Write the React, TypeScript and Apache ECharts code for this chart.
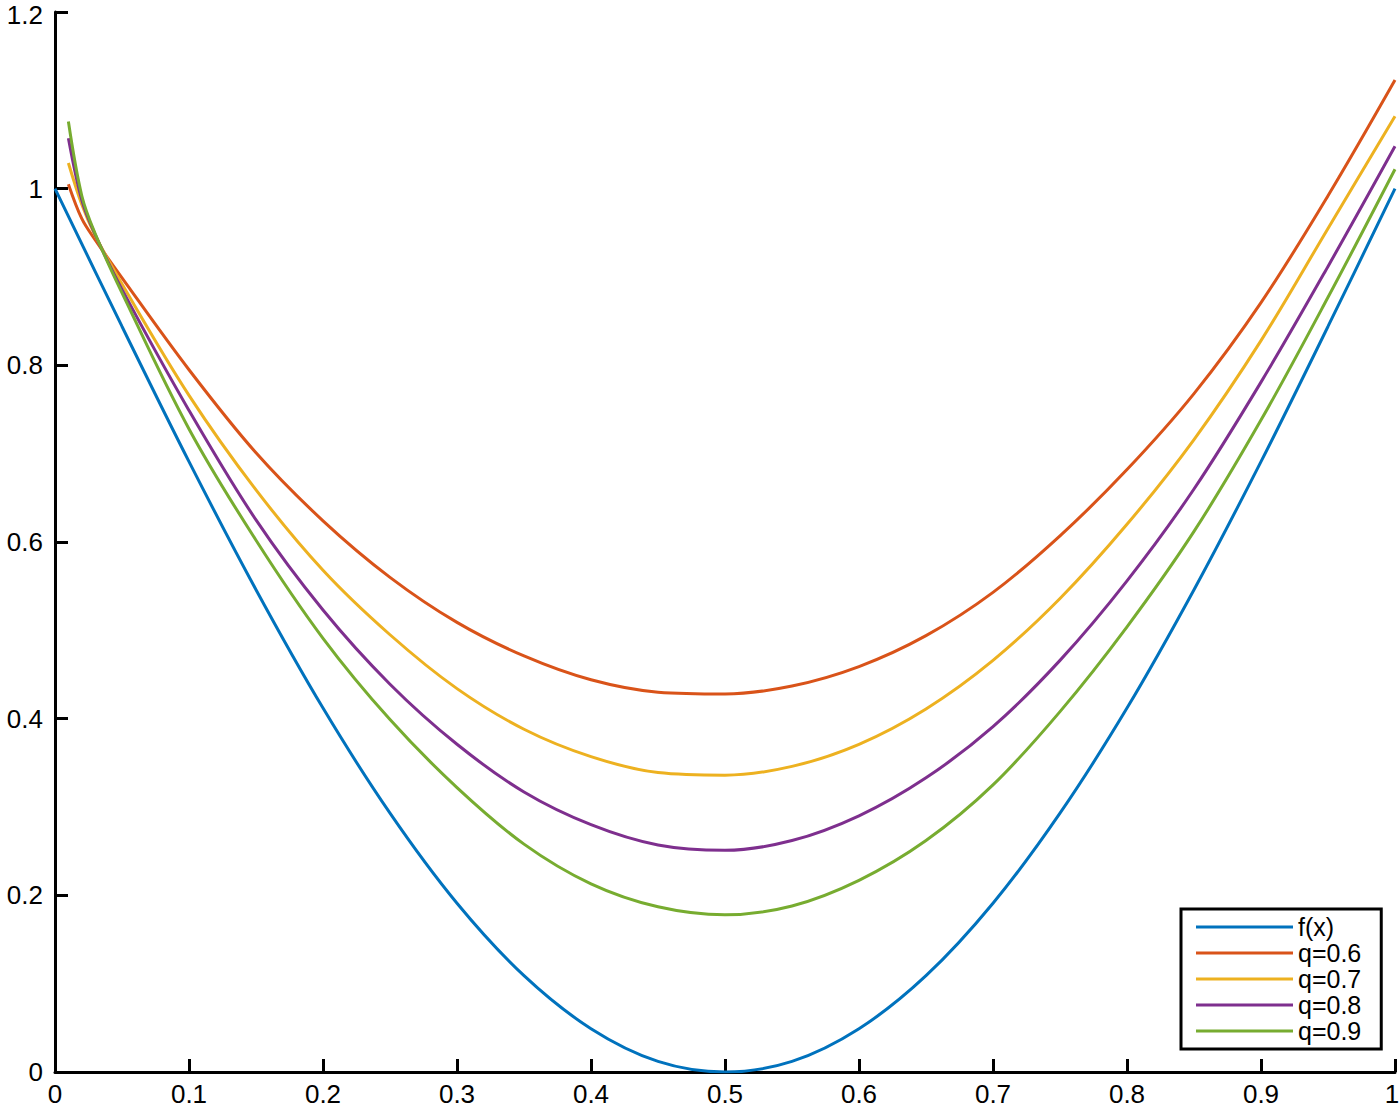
import React, { useEffect, useRef } from 'react';
import * as echarts from 'echarts';

// f(x) samples
const xF = [0, 0.05, 0.1, 0.15, 0.2, 0.25, 0.3, 0.35, 0.4, 0.45, 0.5, 0.55, 0.6, 0.65, 0.7, 0.75, 0.8, 0.85, 0.9, 0.95, 1];
const fX = [1, 0.844, 0.691, 0.546, 0.412, 0.293, 0.191, 0.109, 0.049, 0.012, 0, 0.012, 0.049, 0.109, 0.191, 0.293, 0.412, 0.546, 0.691, 0.844, 1];

// q-curves samples
const xQ = [0.01, 0.02, 0.03, 0.05, 0.1, 0.15, 0.2, 0.25, 0.3, 0.35, 0.4, 0.45, 0.5, 0.55, 0.6, 0.65, 0.7, 0.75, 0.8, 0.85, 0.9, 0.95, 1];
const q06 = [1.005, 0.966, 0.942, 0.899, 0.795, 0.701, 0.624, 0.56, 0.509, 0.471, 0.444, 0.43, 0.428, 0.437, 0.459, 0.494, 0.543, 0.607, 0.682, 0.768, 0.871, 0.992, 1.123];
const q07 = [1.029, 0.982, 0.947, 0.892, 0.766, 0.659, 0.568, 0.495, 0.434, 0.388, 0.357, 0.339, 0.336, 0.346, 0.371, 0.411, 0.466, 0.536, 0.62, 0.716, 0.828, 0.955, 1.082];
const q08 = [1.057, 0.987, 0.948, 0.886, 0.749, 0.625, 0.523, 0.439, 0.371, 0.317, 0.28, 0.257, 0.251, 0.262, 0.29, 0.333, 0.391, 0.466, 0.556, 0.66, 0.781, 0.912, 1.048];
const q09 = [1.076, 0.992, 0.949, 0.882, 0.728, 0.602, 0.491, 0.399, 0.322, 0.258, 0.213, 0.187, 0.178, 0.188, 0.217, 0.262, 0.325, 0.408, 0.504, 0.612, 0.738, 0.877, 1.022];

const seriesNames = ['f(x)', 'q=0.6', 'q=0.7', 'q=0.8', 'q=0.9'];
const seriesColors = ['#0072BD', '#D95319', '#EDB120', '#7E2F8E', '#77AC30'];

const FONT = 'Liberation Sans, Arial, Helvetica, sans-serif';

function pairs(xs: number[], ys: number[]) {
  return xs.map((x, i) => [x, ys[i]]);
}

export default function App() {
  const ref = useRef<HTMLDivElement>(null);
  useEffect(() => {
    document.body.style.margin = '0';
    const chart = echarts.init(ref.current!, null, { renderer: 'svg' });
    const datasets = [pairs(xF, fX), pairs(xQ, q06), pairs(xQ, q07), pairs(xQ, q08), pairs(xQ, q09)];
    chart.setOption({
      animation: false,
      backgroundColor: '#fff',
      grid: { left: 55, right: 4, top: 12, bottom: 39, containLabel: false, outerBoundsMode: 'none' },
      xAxis: {
        type: 'value',
        min: 0,
        max: 1,
        interval: 0.1,
        axisLine: { show: true, lineStyle: { color: '#000', width: 3 } },
        axisTick: { show: true, inside: true, length: 13, lineStyle: { color: '#000', width: 3 } },
        axisLabel: {
          color: '#000',
          fontSize: 26,
          fontFamily: FONT,
          margin: 10,
          lineHeight: 24,
          formatter: (v: number) => {
            const s = String(Math.round(v * 10) / 10);
            return v >= 0.99 ? '{e|' + s + '}' : s;
          },
          rich: {
            e: { color: '#000', fontSize: 26, fontFamily: FONT, lineHeight: 24, padding: [0, 6, 0, 0] },
          },
        },
        splitLine: { show: false },
      },
      yAxis: {
        type: 'value',
        min: 0,
        max: 1.2,
        interval: 0.2,
        axisLine: { show: true, lineStyle: { color: '#000', width: 3 } },
        axisTick: { show: true, inside: true, length: 13, lineStyle: { color: '#000', width: 3 } },
        axisLabel: {
          color: '#000',
          fontSize: 26,
          fontFamily: FONT,
          margin: 12,
          lineHeight: 20,
          formatter: (v: number) => {
            const s = String(Math.round(v * 10) / 10);
            return v >= 1.19 ? '{t|' + s + '}' : s;
          },
          rich: {
            t: { color: '#000', fontSize: 26, fontFamily: FONT, lineHeight: 20, padding: [6, 0, 0, 0] },
          },
        },
        splitLine: { show: false },
      },
      legend: {
        orient: 'vertical',
        left: 1181,
        top: 909,
        padding: [5, 20, 5, 15],
        itemWidth: 97,
        itemHeight: 26,
        itemGap: 0,
        icon: 'path://M0,0H97V3H0Z',
        borderColor: '#000',
        borderWidth: 3,
        backgroundColor: '#fff',
        textStyle: { color: '#000', fontSize: 25, fontFamily: FONT, lineHeight: 26 },
        data: seriesNames,
      },
      series: datasets.map((d, i) => ({
        name: seriesNames[i],
        type: 'line',
        data: d,
        smooth: 0.35,
        symbol: 'none',
        lineStyle: { color: seriesColors[i], width: 3 },
        itemStyle: { color: seriesColors[i] },
        z: 2 + i,
      })),
    });
    return () => chart.dispose();
  }, []);
  return <div ref={ref} style={{ width: 1399, height: 1111 }} />;
}
